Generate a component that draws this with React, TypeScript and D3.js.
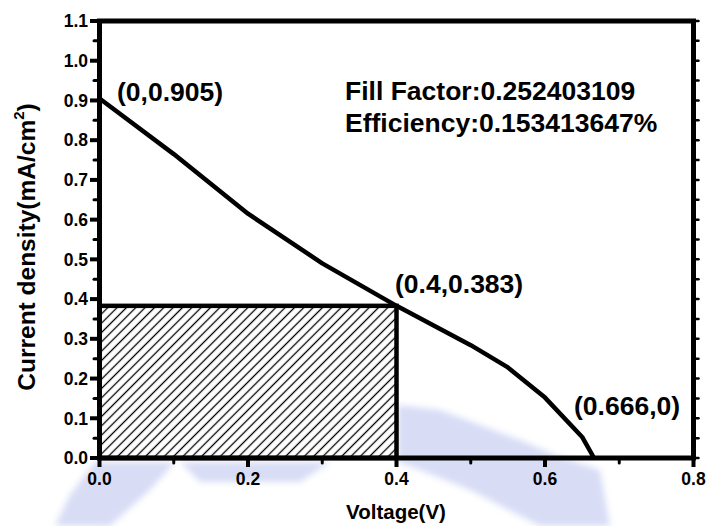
import React from "react";
import * as d3 from "d3";

// I-V curve
const voltage = [0, 0.1, 0.2, 0.3, 0.4, 0.5, 0.55, 0.6, 0.65, 0.666];
const current = [0.905, 0.765, 0.615, 0.49, 0.383, 0.284, 0.228, 0.152, 0.053, 0];

const xTickValues = [0, 0.2, 0.4, 0.6, 0.8];
const xTickLabels = ["0.0", "0.2", "0.4", "0.6", "0.8"];
const yTickValues = [0, 0.1, 0.2, 0.3, 0.4, 0.5, 0.6, 0.7, 0.8, 0.9, 1.0, 1.1];
const yTickLabels = ["0.0", "0.1", "0.2", "0.3", "0.4", "0.5", "0.6", "0.7", "0.8", "0.9", "1.0", "1.1"];

// max power point rectangle
const maxPowerV = 0.4;
const maxPowerJ = 0.383;

const pointLabels = ["(0,0.905)", "(0.4,0.383)", "(0.666,0)"];
const pointV = [0, 0.4, 0.666];
const pointJ = [0.905, 0.383, 0];

const infoLines = ["Fill Factor:0.252403109", "Efficiency:0.153413647%"];

const font = "'Liberation Sans', Arial, Helvetica, sans-serif";

// faint watermark blobs behind the chart (pixel outlines)
const watermark = [
  "M95,462 L175,462 L150,490 L110,526 L55,526 L70,495 Z",
  "M180,462 L330,462 L300,482 L200,482 Z",
  "M398,405 L440,410 L520,440 L555,455 L600,470 L610,526 L540,526 L470,490 L420,470 L398,462 Z",
];

export default function App() {
  const width = 708;
  const height = 526;

  const x = d3.scaleLinear().domain([0, 0.8]).range([99.5, 693.5]);
  const y = d3.scaleLinear().domain([0, 1.1]).range([458, 21]);

  const data = voltage.map((v, i) => ({ v, j: current[i] }));
  const line = d3
    .line<{ v: number; j: number }>()
    .x((d) => x(d.v))
    .y((d) => y(d.j));

  const xMinor = x.ticks(8).filter((t) => !xTickValues.some((m) => Math.abs(m - t) < 1e-9));
  const yMinor = y.ticks(22).filter((t) => !yTickValues.some((m) => Math.abs(m - t) < 1e-9));
  const yAll = y.ticks(22);

  // offsets of the point labels from their points (pixels)
  const labelOffsets = [
    [17.5, 3],
    [-1.5, -13],
    [-20, -43],
  ];

  return (
    <svg
      width={width}
      height={height}
      viewBox={`0 0 ${width} ${height}`}
      style={{ position: "absolute", left: 0, top: 0, background: "#fff" }}
      fontFamily={font}
      fontWeight="bold"
    >
      <defs>
        <pattern
          id="hatch"
          patternUnits="userSpaceOnUse"
          width={6.6}
          height={6.6}
          patternTransform="rotate(45)"
        >
          <line x1={3.3} y1={0} x2={3.3} y2={6.6} stroke="#000" strokeWidth={1.3} />
        </pattern>
        <filter id="soft" x="-10%" y="-10%" width="120%" height="120%">
          <feGaussianBlur stdDeviation={3} />
        </filter>
      </defs>

      <rect width={width} height={height} fill="#fff" />

      <g filter="url(#soft)" fill="#a9b3ea" opacity={0.45}>
        {watermark.map((d, i) => (
          <path key={i} d={d} />
        ))}
      </g>

      {/* hatched max power rectangle */}
      <rect
        x={x(0)}
        y={y(maxPowerJ)}
        width={x(maxPowerV) - x(0)}
        height={y(0) - y(maxPowerJ)}
        fill="url(#hatch)"
        stroke="#000"
        strokeWidth={4.5}
      />

      {/* curve */}
      <path
        d={line(data) ?? ""}
        fill="none"
        stroke="#000"
        strokeWidth={4.5}
        strokeLinejoin="round"
      />

      {/* frame */}
      <rect
        x={x(0)}
        y={y(1.1)}
        width={x(0.8) - x(0)}
        height={y(0) - y(1.1)}
        fill="none"
        stroke="#000"
        strokeWidth={5}
        strokeLinejoin="miter"
      />

      {/* left axis ticks */}
      {yTickValues.map((t) => (
        <line key={"ym" + t} x1={90} x2={x(0)} y1={y(t)} y2={y(t)} stroke="#000" strokeWidth={4} />
      ))}
      {yMinor.map((t) => (
        <line key={"yn" + t} x1={94} x2={x(0)} y1={y(t)} y2={y(t)} stroke="#000" strokeWidth={3} strokeLinecap="round" />
      ))}
      {yTickLabels.map((lab, i) => (
        <text key={"yl" + lab} x={88} y={y(yTickValues[i])} dy="0.36em" textAnchor="end" fontSize={17.5}>
          {lab}
        </text>
      ))}

      {/* right axis ticks */}
      {yAll.map((t) => (
        <line key={"yr" + t} x1={x(0.8)} x2={x(0.8) + 5} y1={y(t)} y2={y(t)} stroke="#000" strokeWidth={2.5} strokeLinecap="round" />
      ))}

      {/* bottom axis ticks */}
      {xTickValues.map((t) => (
        <line key={"xm" + t} x1={x(t)} x2={x(t)} y1={y(0)} y2={y(0) + 9} stroke="#000" strokeWidth={4} />
      ))}
      {xMinor.map((t) => (
        <line key={"xn" + t} x1={x(t)} x2={x(t)} y1={y(0)} y2={y(0) + 5} stroke="#000" strokeWidth={3} strokeLinecap="round" />
      ))}
      {xTickLabels.map((lab, i) => (
        <text key={"xl" + lab} x={x(xTickValues[i])} y={485} textAnchor="middle" fontSize={17.5}>
          {lab}
        </text>
      ))}

      {/* point labels */}
      {pointLabels.map((lab, i) => (
        <text
          key={lab}
          x={x(pointV[i]) + labelOffsets[i][0]}
          y={y(pointJ[i]) + labelOffsets[i][1]}
          fontSize={26.5}
        >
          {lab}
        </text>
      ))}

      {/* fill factor / efficiency */}
      {infoLines.map((s, i) => (
        <text key={s} x={345} y={100 + i * 32} fontSize={26.5}>
          {s}
        </text>
      ))}

      {/* axis titles */}
      <text x={396} y={519} textAnchor="middle" fontSize={20.5}>
        Voltage(V)
      </text>
      <text transform="translate(35,247) rotate(-90)" textAnchor="middle" fontSize={24.5}>
        Current density(mA/cm
        <tspan fontSize={15} dy={-11}>
          2
        </tspan>
        <tspan dy={11}>)</tspan>
      </text>
    </svg>
  );
}
